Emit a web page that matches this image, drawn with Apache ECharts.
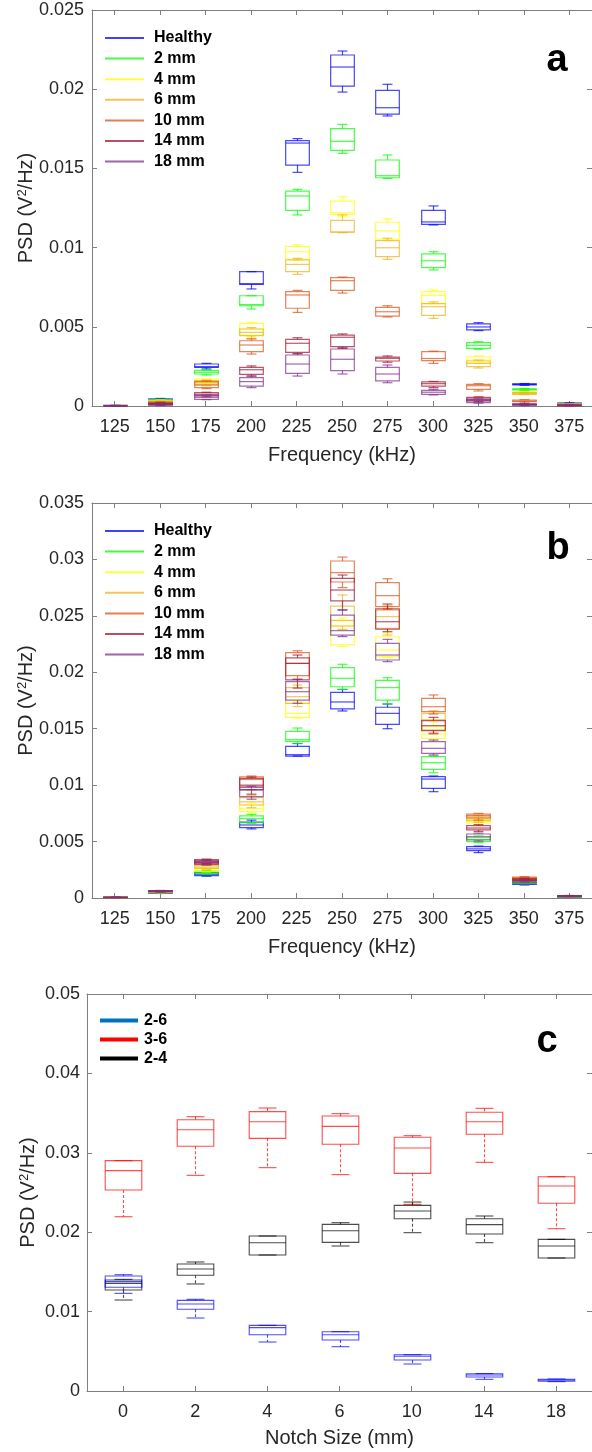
<!DOCTYPE html>
<html><head><meta charset="utf-8">
<script src="https://cdn.jsdelivr.net/npm/echarts@6/dist/echarts.min.js"></script>
<style>html,body{margin:0;padding:0;background:#fff}#c{width:592px;height:1452px}</style>
</head><body><div id="c"></div>
<script>
// ---------- categories & tick labels ----------
const freqCats = ['125','150','175','200','225','250','275','300','325','350','375'];
const notchCats = ['0','2','4','6','10','14','18'];
const abNames = ['Healthy','2 mm','4 mm','6 mm','10 mm','14 mm','18 mm'];
const cNames = ['2-6','3-6','2-4'];
const yTicksA = [0,0.005,0.01,0.015,0.02,0.025];
const yTicksB = [0,0.005,0.01,0.015,0.02,0.025,0.03,0.035];
const yTicksC = [0,0.01,0.02,0.03,0.04,0.05];

// ---------- panel a: [min, q1, median, q3, max] per frequency ----------
const aHealthy = [[0.00001,0.00002,0.00003,0.00004,0.00005],[0.00028,0.00031,0.00038,0.00045,0.00048],[0.00234,0.00244,0.00248,0.00265,0.00269],[0.00739,0.00768,0.00772,0.00848,0.00848],[0.01475,0.01521,0.01660,0.01675,0.01688],[0.01982,0.02020,0.02140,0.02216,0.02241],[0.01831,0.01843,0.01883,0.01993,0.02031],[0.01143,0.01147,0.01162,0.01235,0.01263],[0.00476,0.00480,0.00499,0.00518,0.00526],[0.00130,0.00133,0.00137,0.00140,0.00142],[0.00012,0.00014,0.00016,0.00019,0.00021]];
const a2mm = [[0.00001,0.00002,0.00002,0.00003,0.00004],[0.00022,0.00025,0.00032,0.00040,0.00043],[0.00196,0.00202,0.00213,0.00225,0.00229],[0.00612,0.00633,0.00640,0.00696,0.00696],[0.01206,0.01235,0.01326,0.01357,0.01368],[0.01595,0.01614,0.01671,0.01751,0.01778],[0.01437,0.01441,0.01454,0.01553,0.01585],[0.00859,0.00873,0.00917,0.00960,0.00974],[0.00358,0.00364,0.00383,0.00400,0.00406],[0.00098,0.00101,0.00105,0.00109,0.00111],[0.00008,0.00010,0.00012,0.00014,0.00016]];
const a4mm = [[0.00001,0.00001,0.00002,0.00003,0.00003],[0.00018,0.00020,0.00027,0.00035,0.00038],[0.00146,0.00149,0.00160,0.00170,0.00172],[0.00438,0.00448,0.00486,0.00522,0.00528],[0.00920,0.00926,0.00974,0.01008,0.01018],[0.01195,0.01210,0.01220,0.01294,0.01321],[0.01048,0.01054,0.01105,0.01160,0.01181],[0.00645,0.00648,0.00699,0.00722,0.00732],[0.00268,0.00273,0.00290,0.00311,0.00316],[0.00078,0.00080,0.00085,0.00090,0.00092],[0.00006,0.00008,0.00010,0.00012,0.00014]];
const a6mm = [[0.00001,0.00001,0.00002,0.00002,0.00003],[0.00014,0.00017,0.00023,0.00030,0.00032],[0.00128,0.00133,0.00145,0.00160,0.00163],[0.00427,0.00444,0.00465,0.00486,0.00495],[0.00831,0.00848,0.00894,0.00922,0.00932],[0.01094,0.01097,0.01099,0.01172,0.01206],[0.00926,0.00943,0.00999,0.01044,0.01059],[0.00553,0.00572,0.00627,0.00646,0.00657],[0.00240,0.00248,0.00269,0.00284,0.00290],[0.00072,0.00074,0.00079,0.00084,0.00086],[0.00005,0.00007,0.00009,0.00011,0.00013]];
const a10mm = [[0.00001,0.00001,0.00001,0.00002,0.00002],[0.00010,0.00012,0.00018,0.00025,0.00027],[0.00110,0.00116,0.00133,0.00154,0.00158],[0.00328,0.00343,0.00385,0.00412,0.00423],[0.00591,0.00617,0.00701,0.00722,0.00730],[0.00713,0.00730,0.00791,0.00810,0.00814],[0.00562,0.00568,0.00595,0.00623,0.00633],[0.00269,0.00286,0.00300,0.00343,0.00346],[0.00095,0.00105,0.00128,0.00137,0.00141],[0.00025,0.00027,0.00032,0.00038,0.00040],[0.00004,0.00006,0.00008,0.00010,0.00012]];
const a14mm = [[0.00000,0.00001,0.00001,0.00001,0.00002],[0.00006,0.00008,0.00013,0.00018,0.00020],[0.00058,0.00063,0.00074,0.00084,0.00087],[0.00189,0.00200,0.00229,0.00244,0.00253],[0.00330,0.00339,0.00396,0.00421,0.00431],[0.00364,0.00375,0.00434,0.00448,0.00455],[0.00276,0.00284,0.00301,0.00309,0.00316],[0.00116,0.00126,0.00141,0.00152,0.00155],[0.00028,0.00034,0.00044,0.00055,0.00058],[0.00006,0.00008,0.00010,0.00013,0.00014],[0.00002,0.00003,0.00004,0.00005,0.00006]];
const a18mm = [[0.00000,0.00001,0.00001,0.00001,0.00002],[0.00003,0.00005,0.00008,0.00012,0.00014],[0.00040,0.00042,0.00055,0.00067,0.00070],[0.00116,0.00126,0.00154,0.00179,0.00189],[0.00189,0.00206,0.00265,0.00322,0.00330],[0.00202,0.00223,0.00295,0.00360,0.00368],[0.00147,0.00158,0.00202,0.00244,0.00259],[0.00070,0.00074,0.00087,0.00099,0.00105],[0.00018,0.00021,0.00032,0.00042,0.00045],[0.00003,0.00005,0.00008,0.00012,0.00013],[0.00001,0.00002,0.00003,0.00004,0.00005]];

// ---------- panel b ----------
const bHealthy = [[0.00003,0.00004,0.00005,0.00006,0.00007],[0.00040,0.00043,0.00046,0.00049,0.00051],[0.00193,0.00198,0.00210,0.00225,0.00230],[0.00612,0.00623,0.00647,0.00673,0.00690],[0.01258,0.01258,0.01270,0.01344,0.01369],[0.01657,0.01675,0.01737,0.01822,0.01848],[0.01500,0.01539,0.01636,0.01690,0.01719],[0.00942,0.00972,0.01054,0.01075,0.01081],[0.00402,0.00419,0.00435,0.00455,0.00460],[0.00115,0.00120,0.00128,0.00136,0.00140],[0.00005,0.00007,0.00009,0.00011,0.00012]];
const b2mm = [[0.00003,0.00004,0.00005,0.00006,0.00007],[0.00043,0.00046,0.00050,0.00053,0.00055],[0.00210,0.00215,0.00225,0.00238,0.00243],[0.00662,0.00668,0.00703,0.00727,0.00741],[0.01369,0.01388,0.01403,0.01477,0.01506],[0.01848,0.01872,0.01947,0.02041,0.02071],[0.01719,0.01754,0.01864,0.01929,0.01952],[0.01110,0.01140,0.01199,0.01252,0.01258],[0.00490,0.00499,0.00520,0.00545,0.00550],[0.00125,0.00130,0.00138,0.00146,0.00150],[0.00007,0.00009,0.00011,0.00013,0.00014]];
const b4mm = [[0.00003,0.00004,0.00005,0.00006,0.00007],[0.00046,0.00049,0.00053,0.00057,0.00059],[0.00230,0.00235,0.00250,0.00265,0.00270],[0.00755,0.00765,0.00794,0.00824,0.00840],[0.01593,0.01601,0.01636,0.01725,0.01740],[0.02230,0.02242,0.02410,0.02457,0.02480],[0.02130,0.02138,0.02197,0.02315,0.02350],[0.01400,0.01415,0.01453,0.01520,0.01560],[0.00650,0.00665,0.00680,0.00700,0.00710],[0.00140,0.00145,0.00152,0.00160,0.00164],[0.00010,0.00012,0.00014,0.00016,0.00018]];
const b6mm = [[0.00003,0.00004,0.00005,0.00006,0.00007],[0.00050,0.00052,0.00056,0.00060,0.00062],[0.00255,0.00262,0.00275,0.00290,0.00295],[0.00800,0.00824,0.00853,0.00889,0.00910],[0.01696,0.01725,0.01784,0.01864,0.01887],[0.02380,0.02410,0.02460,0.02587,0.02685],[0.02330,0.02390,0.02493,0.02550,0.02590],[0.01450,0.01490,0.01580,0.01636,0.01660],[0.00670,0.00685,0.00700,0.00720,0.00730],[0.00155,0.00162,0.00170,0.00178,0.00182],[0.00012,0.00014,0.00016,0.00018,0.00020]];
const b10mm = [[0.00003,0.00004,0.00005,0.00006,0.00007],[0.00052,0.00055,0.00059,0.00063,0.00065],[0.00290,0.00295,0.00310,0.00330,0.00335],[0.00960,0.00990,0.01050,0.01073,0.01081],[0.01938,0.01970,0.02079,0.02174,0.02191],[0.02750,0.02800,0.02883,0.02986,0.03021],[0.02560,0.02581,0.02679,0.02794,0.02829],[0.01630,0.01651,0.01695,0.01769,0.01799],[0.00690,0.00710,0.00730,0.00744,0.00750],[0.00165,0.00170,0.00178,0.00186,0.00190],[0.00014,0.00016,0.00019,0.00021,0.00023]];
const b14mm = [[0.00003,0.00004,0.00005,0.00006,0.00007],[0.00055,0.00058,0.00061,0.00065,0.00067],[0.00305,0.00312,0.00325,0.00340,0.00345],[0.00920,0.00960,0.01000,0.01060,0.01070],[0.01860,0.01932,0.02079,0.02127,0.02153],[0.02552,0.02632,0.02729,0.02832,0.02862],[0.02360,0.02383,0.02448,0.02561,0.02605],[0.01460,0.01483,0.01527,0.01571,0.01601],[0.00590,0.00603,0.00620,0.00641,0.00650],[0.00150,0.00155,0.00162,0.00170,0.00175],[0.00012,0.00014,0.00017,0.00019,0.00021]];
const b18mm = [[0.00003,0.00004,0.00005,0.00006,0.00007],[0.00054,0.00056,0.00059,0.00063,0.00065],[0.00295,0.00300,0.00315,0.00328,0.00333],[0.00875,0.00898,0.00957,0.00981,0.00990],[0.01725,0.01754,0.01828,0.01917,0.01938],[0.02316,0.02330,0.02369,0.02507,0.02552],[0.02094,0.02109,0.02153,0.02257,0.02292],[0.01267,0.01282,0.01326,0.01385,0.01400],[0.00505,0.00514,0.00540,0.00567,0.00575],[0.00135,0.00140,0.00148,0.00155,0.00160],[0.00010,0.00012,0.00014,0.00016,0.00018]];

// ---------- panel c: per notch size ----------
const c26 = [[0.01230,0.01306,0.01377,0.01448,0.01465],[0.00919,0.01029,0.01096,0.01142,0.01155],[0.00617,0.00709,0.00798,0.00827,0.00827],[0.00558,0.00642,0.00709,0.00747,0.00747],[0.00340,0.00390,0.00437,0.00457,0.00457],[0.00147,0.00176,0.00202,0.00218,0.00220],[0.00118,0.00125,0.00138,0.00148,0.00151]];
const c36 = [[0.02195,0.02531,0.02775,0.02901,0.02901],[0.02716,0.03082,0.03291,0.03417,0.03455],[0.02813,0.03182,0.03392,0.03518,0.03564],[0.02725,0.03107,0.03333,0.03463,0.03493],[0.02351,0.02741,0.03060,0.03195,0.03216],[0.02880,0.03233,0.03392,0.03510,0.03560],[0.02044,0.02364,0.02582,0.02699,0.02699]];
const c24 = [[0.01146,0.01272,0.01356,0.01398,0.01406],[0.01348,0.01457,0.01537,0.01599,0.01625],[0.01713,0.01713,0.01868,0.01952,0.01952],[0.01826,0.01872,0.02019,0.02099,0.02120],[0.01994,0.02170,0.02267,0.02338,0.02380],[0.01868,0.01977,0.02095,0.02170,0.02204],[0.01675,0.01675,0.01826,0.01910,0.01910]];

// ---------- styles ----------
const abColors = ['#0000FF','#00FF00','#FFFF00','#EDB120','#D95319','#A2142F','#7E2F8E'];
const cColors = ['#0000FF','#FF0000','#000000'];
const cLegendColors = ['#0072BD','#FF0000','#000000'];
const FONT = 'Liberation Sans, Arial, sans-serif';
const AX = '#7f7f7f', TX = '#262626';

function boxSeries(name, rows, idx, color, o) {
  return {
    name: name, type: 'custom', xAxisIndex: idx*2, yAxisIndex: idx*2,
    itemStyle: {color: color, opacity: o.opacity},
    encode: {x: 0, y: [1,2,3,4,5]},
    data: rows.map((r, i) => [i].concat(r)),
    renderItem: function (params, api) {
      const i = api.value(0);
      const p = [1,2,3,4,5].map(k => api.coord([i, api.value(k)]));
      const cx = Math.round(p[0][0]) + 0.5;
      const bw = api.size([1, 0])[0] * o.box;
      const cw = bw * o.cap;
      const st = {stroke: color, lineWidth: o.lw, opacity: o.opacity, fill: null};
      const ws = Object.assign({}, st, {lineDash: o.dash || null});
      const L = (x1, y1, x2, y2, s) => ({type: 'line', silent: true, shape: {x1, y1, x2, y2}, style: s});
      return {type: 'group', children: [
        L(cx, p[4][1], cx, p[3][1], ws),
        L(cx, p[1][1], cx, p[0][1], ws),
        L(cx - cw/2, p[4][1], cx + cw/2, p[4][1], st),
        L(cx - cw/2, p[0][1], cx + cw/2, p[0][1], st),
        {type: 'rect', silent: true, shape: {x: cx - bw/2, y: p[3][1], width: bw, height: p[1][1] - p[3][1]},
         style: Object.assign({}, st, {fill: 'none'})},
        L(cx - bw/2, p[2][1], cx + bw/2, p[2][1], st)
      ]};
    }
  };
}

const grids = [
  {left: 92, top: 10, width: 500, height: 396},
  {left: 92, top: 503, width: 500, height: 395},
  {left: 87, top: 994, width: 506, height: 397}
];
const xCats = [freqCats, freqCats, notchCats];
const xNames = ['Frequency (kHz)', 'Frequency (kHz)', 'Notch Size (mm)'];
const yTicks = [yTicksA, yTicksB, yTicksC];
const yGap = [55, 55, 48];
const yLabelMargin = [8, 8, 7];

const xAxes = [], yAxes = [];
grids.forEach((g, k) => {
  const base = {
    type: 'category', gridIndex: k, data: xCats[k], boundaryGap: true,
    axisLine: {show: true, onZero: false, lineStyle: {color: AX, width: 1}},
    axisTick: {show: true, inside: true, alignWithLabel: true, length: 5, lineStyle: {color: AX}},
    splitLine: {show: false}
  };
  xAxes.push(Object.assign({}, base, {
    position: 'bottom',
    axisLabel: {fontSize: 18, color: TX, margin: 12, fontFamily: FONT},
    name: xNames[k], nameLocation: 'middle', nameGap: k === 2 ? 37 : 39, nameMoveOverlap: false,
    nameTextStyle: {fontSize: 20, color: TX, fontFamily: FONT}
  }));
  xAxes.push(Object.assign({}, base, {position: 'top', axisLabel: {show: false}}));
  const t = yTicks[k];
  const ybase = {
    type: 'value', gridIndex: k, min: t[0], max: t[t.length-1], interval: t[1] - t[0],
    axisLine: {show: true, lineStyle: {color: AX, width: 1}},
    axisTick: {show: true, inside: true, length: 5, lineStyle: {color: AX}},
    splitLine: {show: false}
  };
  yAxes.push(Object.assign({}, ybase, {
    position: 'left',
    axisLabel: {fontSize: 18, color: TX, margin: yLabelMargin[k], fontFamily: FONT,
      formatter: v => { const m = t.find(x => Math.abs(x - v) < 1e-9); return String(m !== undefined ? m : v); }},
    name: 'PSD (V{sup|2}/Hz)', nameLocation: 'middle', nameGap: yGap[k], nameMoveOverlap: false,
    nameTextStyle: {fontSize: 20, color: TX, fontFamily: FONT,
      rich: {sup: {fontSize: 13, color: TX, fontFamily: FONT, verticalAlign: 'top', padding: [0, 0, 8, 0]}}}
  }));
  yAxes.push(Object.assign({}, ybase, {position: 'right', axisLabel: {show: false}}));
});

const abOpts = {box: 0.52, cap: 0.42, lw: 1.2, opacity: 0.72, dash: null};
const cOpts = {box: 0.507, cap: 0.49, lw: 1.1, opacity: 0.7, dash: [3, 2]};
const aSets = [aHealthy, a2mm, a4mm, a6mm, a10mm, a14mm, a18mm];
const bSets = [bHealthy, b2mm, b4mm, b6mm, b10mm, b14mm, b18mm];
const cSets = [c26, c36, c24];

const series = [];
aSets.forEach((d, i) => series.push(boxSeries(abNames[i], d, 0, abColors[i], abOpts)));
bSets.forEach((d, i) => series.push(boxSeries(abNames[i], d, 1, abColors[i], abOpts)));
// draw red first, then black, then blue on top
[1, 2, 0].forEach(i => series.push(boxSeries(cNames[i], cSets[i], 2, cColors[i], cOpts)));

const legendText = {fontSize: 16, fontWeight: 'bold', color: '#000', fontFamily: FONT, lineHeight: 20, padding: [0, 0, 0, 5]};
const legends = [
  {left: 100, top: 23, orient: 'vertical', icon: 'rect', itemWidth: 39, itemHeight: 2, itemGap: 0.6,
   data: abNames.map((n, i) => ({name: n, itemStyle: {color: abColors[i], opacity: 0.75}})), textStyle: legendText, selectedMode: false},
  {left: 100, top: 516, orient: 'vertical', icon: 'rect', itemWidth: 39, itemHeight: 2, itemGap: 0.6,
   data: abNames.map((n, i) => ({name: n, itemStyle: {color: abColors[i], opacity: 0.75}})), textStyle: legendText, selectedMode: false},
  {left: 95, top: 1006, orient: 'vertical', icon: 'rect', itemWidth: 38, itemHeight: 4, itemGap: 0,
   data: cNames.map((n, i) => ({name: n, itemStyle: {color: cLegendColors[i], opacity: 1}})),
   textStyle: Object.assign({}, legendText, {lineHeight: 19, padding: [0, 0, 0, 1]}), selectedMode: false}
];

const panelLetter = (txt, x, y) => ({type: 'text', x: x, y: y, silent: true,
  style: {text: txt, fontSize: 38, fontWeight: 'bold', fontFamily: FONT, fill: '#000', align: 'center', verticalAlign: 'middle'}});

const chart = echarts.init(document.getElementById('c'), null, {renderer: 'canvas'});
chart.setOption({
  animation: false,
  backgroundColor: '#fff',
  grid: grids,
  xAxis: xAxes,
  yAxis: yAxes,
  legend: legends,
  series: series,
  graphic: [panelLetter('a', 557, 61), panelLetter('b', 558, 549), panelLetter('c', 547, 1042)]
});
</script></body></html>
